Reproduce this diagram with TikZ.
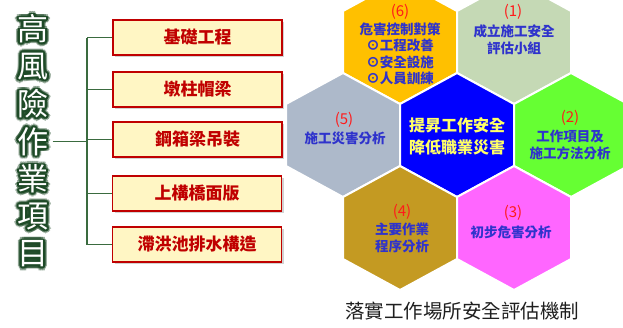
\documentclass[tikz,border=0pt]{standalone}
\usepackage{fontspec}
\newfontfamily\cjk{Noto Sans CJK TC}
\usepackage{tikz}
\usetikzlibrary{positioning,shadows}

\definecolor{riskred}{HTML}{C00000}
\definecolor{boxfill}{HTML}{FFF6C4}
\definecolor{treegreen}{HTML}{3A6B3F}
\definecolor{glowgreen}{HTML}{1E4A27}
\definecolor{hexblue}{HTML}{2F33CC}
\definecolor{numred}{HTML}{FF1A1A}
\definecolor{hexorange}{HTML}{FFC000}
\definecolor{hexsage}{HTML}{C5D9B5}
\definecolor{hexgray}{HTML}{ADB9CA}
\definecolor{hexcore}{HTML}{0000FF}
\definecolor{hexlime}{HTML}{66FF33}
\definecolor{hexgold}{HTML}{C49A22}
\definecolor{hexpink}{HTML}{FF66FF}
\definecolor{coreyellow}{HTML}{FFFF66}

\tikzset{
    workbox/.style={draw=riskred,
        line width=1.1pt,
        fill=boxfill,
        minimum width=169pt,
        minimum height=35pt,
        text=riskred,
        font=\cjk\bfseries\fontsize{17}{17}\selectfont,
        drop shadow={shadow xshift=2pt, shadow yshift=-2pt, fill=black!35}},
    branch/.style={draw=treegreen, line width=1.3pt},
    titlechar/.style={text=white, inner sep=0pt,
        font=\cjk\fontsize{31}{31}\selectfont},
    titleglow/.style={titlechar, text=glowgreen},
    hexcell/.style={draw=white, line width=2pt},
    steplabel/.style={text=numred, inner sep=0pt,
        font=\cjk\fontsize{15}{15}\selectfont},
    hextext/.style={text=hexblue, align=center, inner sep=0pt,
        font=\cjk\bfseries\fontsize{13.5}{16.5}\selectfont}
}

\begin{document}
\begin{tikzpicture}[x=1pt,y=-1pt]

    \useasboundingbox[fill=white] (0,0) rectangle (623,327);

    % Title column with glow
    \foreach \ch [count=\i] in {高,風,險,作,業,項,目}{
        \foreach \a in {0,30,...,330}{
            \node[titleglow, opacity=0.45, shift={(\a:3.6pt)}]
            (h\i-\a) at (33,{29+37.5*(\i-1)}) {\ch};
            \node[titleglow, shift={(\a:1.8pt)}]
            (g\i-\a) at (33,{29+37.5*(\i-1)}) {\ch};
        }
        \node[titlechar] (t\i) at (33,{29+37.5*(\i-1)}) {\ch};
    }

    % Work items
    \node[workbox] (b1) at (197.5,37.5) {基礎工程};
    \node[workbox] (b2) at (197.5,89.5) {墩柱帽梁};
    \node[workbox] (b3) at (197.5,139.5) {鋼箱梁吊裝};
    \node[workbox] (b4) at (197,193.5) {上構橋面版};
    \node[workbox] (b5) at (197,244.5) {滯洪池排水構造};

    % Tree
    \coordinate (trunk) at (87,0);
    \draw[branch] (b1.west -| trunk) -- (b5.west -| trunk);
    \foreach \i in {1,...,5}
        \draw[branch] (b\i.west -| trunk) -- (b\i.west);
    \draw[branch] (t4.east) ++(4,0) -- (t4.east -| trunk);

    % Hexagons
    \begin{scope}
        \clip (0,0) rectangle (623,327);
        \foreach \cx/\cy/\col in {400/42/hexorange, 514/42/hexsage,
            343/135/hexgray, 457/135/hexcore, 571/135/hexlime,
            400/228/hexgold, 514/228/hexpink}
            \filldraw[hexcell, fill=\col] (\cx,\cy)
            +(0,-62) -- +(57,-31) -- +(57,31) -- +(0,62)
            -- +(-57,31) -- +(-57,-31) -- cycle;
    \end{scope}

    % Hexagon labels
    \node[steplabel] (n6) at (400,12) {(6)};
    \node[hextext] (s6) at (400,54)
        {危害控制對策\\⊙工程改善\\⊙安全設施\\⊙人員訓練};
    \node[steplabel] (n1) at (513,12) {(1)};
    \node[hextext] (s1) at (514,40) {成立施工安全\\評估小組};
    \node[steplabel] (n5) at (344,120) {(5)};
    \node[hextext] (s5) at (345,138) {施工災害分析};
    \node[text=coreyellow, align=center, inner sep=0pt,
        font=\cjk\bfseries\fontsize{16}{22}\selectfont]
        (core) at (457,136) {提昇工作安全\\降低職業災害};
    \node[steplabel] (n2) at (570,118) {(2)};
    \node[hextext] (s2) at (570,145) {工作項目及\\施工方法分析};
    \node[steplabel] (n4) at (402,212) {(4)};
    \node[hextext] (s4) at (402,238) {主要作業\\程序分析};
    \node[steplabel] (n3) at (513,213) {(3)};
    \node[hextext] (s3) at (511,232) {初步危害分析};

    % Caption
    \node[text=black!88, inner sep=0pt,
        font=\cjk\fontsize{19.5}{19.5}\selectfont]
        (caption) at (462,311) {落實工作場所安全評估機制};

\end{tikzpicture}
\end{document}
